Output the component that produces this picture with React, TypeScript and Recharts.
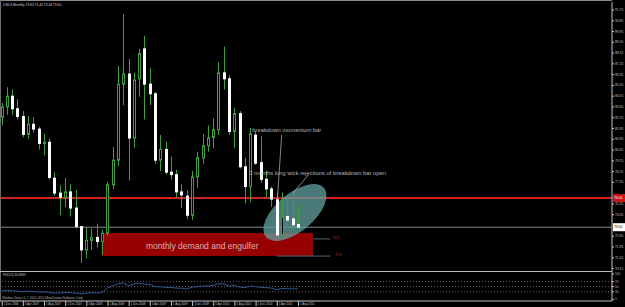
import React from 'react';
import {
  ComposedChart,
  LineChart,
  Line,
  Bar,
  XAxis,
  YAxis,
  ReferenceLine,
  ReferenceArea,
  ReferenceDot,
} from 'recharts';

// ---------- data ----------
const months = [
  'Dec 2006',
  'Jan 2007', 'Feb 2007', 'Mar 2007', 'Apr 2007', 'May 2007', 'Jun 2007', 'Jul 2007', 'Aug 2007', 'Sep 2007', 'Oct 2007', 'Nov 2007', 'Dec 2007',
  'Jan 2008', 'Feb 2008', 'Mar 2008', 'Apr 2008', 'May 2008', 'Jun 2008', 'Jul 2008', 'Aug 2008', 'Sep 2008', 'Oct 2008', 'Nov 2008', 'Dec 2008',
  'Jan 2009', 'Feb 2009', 'Mar 2009', 'Apr 2009', 'May 2009', 'Jun 2009', 'Jul 2009', 'Aug 2009', 'Sep 2009', 'Oct 2009', 'Nov 2009', 'Dec 2009',
  'Jan 2010', 'Feb 2010', 'Mar 2010', 'Apr 2010', 'May 2010', 'Jun 2010', 'Jul 2010', 'Aug 2010', 'Sep 2010', 'Oct 2010', 'Nov 2010', 'Dec 2010',
  'Jan 2011', 'Feb 2011', 'Mar 2011', 'Apr 2011', 'May 2011', 'Jun 2011', 'Jul 2011', 'Aug 2011',
];

const opens = [
  82.8, 83.65, 84.55, 83.5, 82.85, 81.35, 82.2, 81.8, 80.6, 80.7, 77.7, 76.45, 76.05,
  76.55, 75.2, 73.65, 71.7, 72.5, 72.75, 72.4, 73.1, 77.15, 79.2, 85.55, 86.4,
  81.05, 86.0, 88.5, 85.55, 84.75, 79.2, 80.1, 78.2, 78.0, 76.55, 76.2, 74.6,
  77.8, 79.4, 80.4, 81.1, 81.75, 86.5, 86.0, 81.6, 83.1, 78.65, 77.0, 81.3,
  79.0, 77.6, 76.8, 75.9, 72.95, 74.5, 74.3, 73.83,
];
const highs = [
  84.0, 85.3, 85.1, 84.3, 83.3, 82.9, 82.8, 82.0, 81.4, 81.0, 78.2, 77.1, 77.7,
  77.2, 76.7, 73.7, 73.6, 73.5, 73.9, 73.4, 77.4, 80.3, 87.1, 91.4, 87.65,
  86.5, 88.5, 89.6, 86.9, 84.9, 81.3, 80.75, 79.5, 78.4, 77.2, 76.7, 78.3,
  79.9, 81.4, 82.1, 82.7, 87.4, 88.7, 86.3, 83.6, 83.3, 79.4, 81.9, 81.6,
  81.2, 78.3, 77.0, 76.5, 76.5, 76.3, 76.6, 75.44,
];
const lows = [
  82.1, 83.0, 83.0, 82.6, 81.1, 81.0, 81.5, 80.1, 79.6, 77.6, 76.2, 74.6, 75.3,
  74.5, 73.5, 70.6, 71.0, 71.7, 71.9, 71.3, 72.9, 76.8, 78.7, 83.8, 77.5,
  80.2, 84.5, 82.6, 83.8, 78.9, 78.3, 78.0, 77.6, 76.1, 75.2, 74.3, 74.2,
  76.9, 78.9, 79.9, 80.2, 81.3, 85.1, 81.3, 80.2, 78.5, 75.6, 75.7, 78.8,
  77.3, 76.1, 75.3, 72.8, 72.7, 73.5, 73.4, 73.44,
];
const closes = [
  83.65, 84.55, 83.5, 82.85, 81.35, 82.2, 81.8, 80.6, 80.7, 77.75, 76.45, 76.1, 76.55,
  75.2, 73.65, 71.7, 72.5, 72.75, 72.4, 73.1, 77.15, 79.2, 85.55, 86.4, 81.05,
  85.9, 88.1, 85.55, 84.75, 79.2, 80.1, 78.2, 78.0, 76.55, 76.3, 74.6, 77.8,
  79.4, 80.4, 81.05, 81.75, 86.5, 86.0, 81.6, 83.1, 78.65, 77.0, 81.4, 78.95,
  77.6, 76.8, 75.95, 72.95, 74.45, 74.2, 73.8, 73.6,
];
const rsiValues = [
  33, 35, 34, 32, 30, 32, 31, 29, 30, 27, 25, 25, 27,
  26, 25, 22, 25, 26, 25, 27, 45, 52, 62, 65, 53,
  61, 64, 60, 59, 50, 50, 47, 47, 44, 44, 41, 48,
  50, 52, 53, 55, 62, 61, 52, 55, 48, 46, 53, 50,
  47, 46, 44, 38, 43, 42, 41, 40.8963,
];

const xTickIdx = [0, 4, 8, 12, 16, 20, 24, 28, 32, 36, 40, 44, 48, 52, 56];
const xTickLabels = [
  '1 Dec 2006', '1 Apr 2007', '1 Aug 2007', '1 Dec 2007', '1 Apr 2008', '1 Aug 2008', '1 Dec 2008',
  '1 Apr 2009', '1 Aug 2009', '1 Dec 2009', '1 Apr 2010', '1 Aug 2010', '1 Dec 2010', '1 Apr 2011', '1 Aug 2011',
];
// 73.75 and 76.45 sit under the price tags in the reference
const priceTicks = [
  70.15, 71.05, 71.95, 72.85, 74.65, 75.55, 77.35, 78.25, 79.15, 80.05, 80.95,
  81.85, 82.75, 83.65, 84.55, 85.45, 86.35, 87.25, 88.15, 89.05, 89.95, 90.85, 91.75,
];
const rsiTicks = [0, 30, 50, 70, 100];
const rsiLevels = [70, 50, 30];

const resistancePrice = 76.04;
const lastPrice = 73.6;
const zoneTop = 73.12;
const zoneBottom = 71.19;
const level1 = 72.62;
const level2 = 71.19;

const candles = months.map((m, i) => ({
  i,
  month: m,
  open: opens[i],
  high: highs[i],
  low: lows[i],
  close: closes[i],
  range: [lows[i], highs[i]],
}));
const rsiData = months.map((m, i) => ({ i, month: m, rsi: rsiValues[i] }));

// ---------- styles ----------
const X_DOMAIN = [-0.3214, 115.37];
const GREEN = '#3aa03a';
const UI_FONT = 'Liberation Sans, Arial, sans-serif';
const AXIS_COLOR = '#c4c4c4';

const Candle = (props: any) => {
  const { x, y, width, height, payload } = props;
  if (!payload) return null;
  const { open, close, high, low } = payload;
  const top = Math.min(y, y + height);
  const h = Math.abs(height);
  const ppu = h / (high - low || 1);
  const c = Math.round(x + width / 2);
  const yO = top + (high - open) * ppu;
  const yC = top + (high - close) * ppu;
  const bull = close >= open;
  const bTop = Math.min(yO, yC);
  const bH = Math.max(1, Math.abs(yC - yO));
  return (
    <g>
      <line x1={c + 0.5} x2={c + 0.5} y1={top} y2={top + h} stroke={GREEN} strokeWidth={1} />
      {bull ? (
        <rect x={c - 0.5} y={bTop} width={2} height={bH} fill="#000" stroke={GREEN} strokeWidth={1} />
      ) : (
        <rect x={c - 1} y={bTop - 0.5} width={3} height={bH + 1} fill="#ffffff" />
      )}
    </g>
  );
};

const PriceTick = (props: any) => {
  const { x, y, payload } = props;
  return (
    <text x={x} y={y + 1.1} fontSize={3.3} fill={AXIS_COLOR} fontFamily={UI_FONT} textAnchor="start">
      {Number(payload.value).toFixed(2)}
    </text>
  );
};

const RsiTick = (props: any) => {
  const { x, y, payload } = props;
  return (
    <text x={x} y={y + 1.1} fontSize={3.1} fill={AXIS_COLOR} fontFamily={UI_FONT} textAnchor="start">
      {String(payload.value)}
    </text>
  );
};

const DateTick = (props: any) => {
  const { x, y, payload } = props;
  const k = xTickIdx.indexOf(payload.value);
  return (
    <g>
      <line x1={x + 0.5} x2={x + 0.5} y1={y} y2={y + 5} stroke={AXIS_COLOR} strokeWidth={1} />
      <text x={x + 2} y={y + 4.3} fontSize={2.9} fill={AXIS_COLOR} fontFamily={UI_FONT} textAnchor="start">
        {k >= 0 ? xTickLabels[k] : ''}
      </text>
    </g>
  );
};

const PriceTag = (props: any) => {
  const vb = props.viewBox || {};
  const x = (vb.x || 0) + (vb.width || 0) + 1;
  const y = vb.y || 0;
  return (
    <g>
      <rect x={x} y={y - 4} width={12} height={8} fill={props.bg} />
      <text x={x + 1} y={y + 1.2} fontSize={3.3} fill={props.fg} fontFamily={UI_FONT}>
        {props.text}
      </text>
    </g>
  );
};

const makeText = (txt: string, size: number, color: string) => (p: any) => (
  <text x={p.cx} y={p.cy} fontSize={size} fill={color} fontFamily={UI_FONT} textAnchor="start" dominantBaseline="central">
    {txt}
  </text>
);

const EllipseShape = (p: any) => (
  <ellipse
    cx={p.cx}
    cy={p.cy}
    rx={38}
    ry={19}
    transform={`rotate(-40 ${p.cx} ${p.cy})`}
    fill="#62a2a2"
    fillOpacity={0.75}
  />
);

export default function App() {
  return (
    <div
      style={{
        position: 'fixed',
        left: 0,
        top: 0,
        width: 625,
        height: 307,
        background: '#000',
        overflow: 'hidden',
      }}
    >
      {/* main price pane */}
      <div style={{ position: 'absolute', left: 0, top: 0 }}>
        <ComposedChart width={625} height={272} data={candles} margin={{ top: 2, right: 0, bottom: 0, left: 0 }}>
          <XAxis dataKey="i" type="number" domain={X_DOMAIN} hide allowDataOverflow />
          <YAxis
            yAxisId="p"
            orientation="right"
            width={13}
            domain={[69.857, 92.4185]}
            allowDataOverflow
            ticks={priceTicks}
            interval={0}
            tickSize={2}
            tickMargin={1}
            axisLine={{ stroke: AXIS_COLOR }}
            tickLine={{ stroke: AXIS_COLOR }}
            tick={<PriceTick />}
          />
          <ReferenceArea
            yAxisId="p"
            x1={18.9}
            x2={58.85}
            y1={zoneBottom}
            y2={zoneTop}
            fill="#960000"
            fillOpacity={1}
            stroke="none"
            zIndex={40}
          />
          <ReferenceDot yAxisId="p" x={55.44} y={74.83} r={1} shape={EllipseShape} ifOverflow="visible" zIndex={50} />
          <ReferenceLine
            yAxisId="p"
            y={resistancePrice}
            stroke="#d42222"
            strokeWidth={2}
            zIndex={45}
            label={<PriceTag bg="#c81616" fg="#ffffff" text="76.04" />}
          />
          <ReferenceLine
            yAxisId="p"
            y={lastPrice}
            stroke="#8a8a8a"
            strokeWidth={1}
            zIndex={45}
            label={<PriceTag bg="#ffffff" fg="#000000" text="73.60" />}
          />
          <ReferenceLine
            yAxisId="p"
            segment={[{ x: 58.85, y: level1 }, { x: 62.1, y: level1 }]}
            stroke="#56667c"
            strokeWidth={1}
          />
          <ReferenceLine
            yAxisId="p"
            segment={[{ x: 52.0, y: level2 }, { x: 62.1, y: level2 }]}
            stroke="#56667c"
            strokeWidth={1}
          />
          <ReferenceLine
            yAxisId="p"
            segment={[{ x: 52.93, y: 81.3 }, { x: 52.1, y: 75.87 }]}
            stroke="#a8a8a8"
            strokeWidth={0.8}
          />
          <ReferenceLine
            yAxisId="p"
            segment={[{ x: 57.96, y: 77.96 }, { x: 55.12, y: 76.48 }]}
            stroke="#a8a8a8"
            strokeWidth={0.8}
          />
          <Bar yAxisId="p" dataKey="range" barSize={5} shape={<Candle />} isAnimationActive={false} />
          <ReferenceDot yAxisId="p" x={27.28} y={72.07} r={1} shape={makeText('monthly demand and engulfer', 8.5, '#d6b4b4')} />
          <ReferenceDot yAxisId="p" x={47.37} y={81.72} r={1} shape={makeText('breakdown momentum bar', 5.8, '#b4b4b4')} />
          <ReferenceDot
            yAxisId="p"
            x={46.8}
            y={78.15}
            r={1}
            shape={makeText('3 months long wick rejections of breakdown bar open', 5.8, '#b4b4b4')}
          />
          <ReferenceDot yAxisId="p" x={62.6} y={72.72} r={1} shape={makeText('72.5', 3.4, '#c83a3a')} ifOverflow="visible" />
          <ReferenceDot yAxisId="p" x={63.0} y={71.28} r={1} shape={makeText('71.3', 3.4, '#c83a3a')} ifOverflow="visible" />
        </ComposedChart>
      </div>

      {/* RSI pane */}
      <div style={{ position: 'absolute', left: 0, top: 272 }}>
        <LineChart width={625} height={35} data={rsiData} margin={{ top: 0, right: 0, bottom: 0, left: 0 }}>
          <XAxis
            dataKey="i"
            type="number"
            domain={X_DOMAIN}
            allowDataOverflow
            ticks={xTickIdx}
            interval={0}
            height={6}
            tickSize={0}
            tickMargin={0}
            tickLine={false}
            axisLine={{ stroke: AXIS_COLOR }}
            tick={<DateTick />}
          />
          <YAxis
            orientation="right"
            width={13}
            domain={[-6.7, 107.9]}
            allowDataOverflow
            ticks={rsiTicks}
            interval={0}
            tickSize={2}
            tickMargin={1}
            axisLine={{ stroke: AXIS_COLOR }}
            tickLine={{ stroke: AXIS_COLOR }}
            tick={<RsiTick />}
          />
          {rsiLevels.map((lv) => (
            <ReferenceLine key={lv} y={lv} stroke="#5a5a5a" strokeDasharray="1 2" strokeWidth={1} />
          ))}
          <Line dataKey="rsi" stroke="#2f5a90" strokeWidth={1} dot={false} isAnimationActive={false} />
        </LineChart>
      </div>

      {/* window frame and pane texts */}
      <div style={{ position: 'absolute', left: 0, top: 0, width: 612, height: 1, background: '#8c8c8c' }} />
      <div style={{ position: 'absolute', left: 0, top: 0, width: 1, height: 301, background: '#6c6c6c' }} />
      <div style={{ position: 'absolute', left: 0, top: 271, width: 612, height: 1, background: '#b8b8b8' }} />
      <svg width={625} height={307} style={{ position: 'absolute', left: 0, top: 0, pointerEvents: 'none' }}>
        <text x={3} y={6} fontSize={3.3} fill="#d0d0d0" fontFamily={UI_FONT}>
          USDX,Monthly  73.83 75.44 73.44 73.60
        </text>
        <text x={3} y={276.3} fontSize={3.1} fill="#c0c0c0" fontFamily={UI_FONT}>
          RSI(14) 40.8963
        </text>
        <text x={2} y={298.8} fontSize={3.1} fill="#b0b0b0" fontFamily={UI_FONT}>
          Windsor Direct 4, © 2001-2011 MetaQuotes Software Corp.
        </text>
      </svg>
    </div>
  );
}
